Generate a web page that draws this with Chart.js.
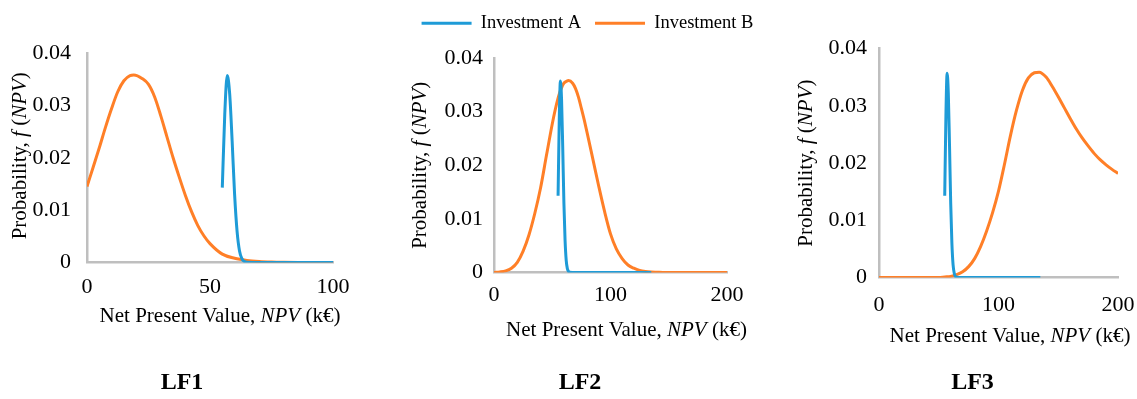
<!DOCTYPE html>
<html lang="en">
  <head>
    <meta charset="UTF-8" />
    <script src="https://cdn.jsdelivr.net/npm/chart.js@4.4.1/dist/chart.umd.min.js"></script>
    <title>NPV probability density, LF1 to LF3</title>
    <style>
      body {
        margin: 0;
        background: #fff;
        overflow: hidden;
      }

      .page {
        position: relative;
        width: 1137px;
        height: 399px;
        overflow: hidden;
      }

      .page canvas {
        position: absolute;
        top: 0;
      }
    </style>
  </head>
  <body>
    <div class="page">
      <canvas id="lf1" width="364" height="399" style="left: 0"></canvas>
      <canvas id="lf2" width="375" height="399" style="left: 400px"></canvas>
      <canvas id="lf3" width="375" height="399" style="left: 775px"></canvas>
    </div>
    <script>
      const seriesNames = ['Investment A', 'Investment B']
      const panelTitles = ['LF1', 'LF2', 'LF3']
      const yTickValues = [0, 0.01, 0.02, 0.03, 0.04]
      const yTickLabels = ['0', '0.01', '0.02', '0.03', '0.04']
      const xTicksLF1 = [0, 50, 100]
      const xTicksLF23 = [0, 100, 200]

      // Investment A is the same curve in all three panels
      const npvA = [55, 56, 57, 58, 59, 60, 61, 62, 63, 64, 65, 70, 80, 90, 100, 110, 120, 130, 135]
      const probA = [0.0143, 0.0283, 0.0357, 0.0322, 0.0232, 0.013, 0.006, 0.0022, 0.0007, 0.0002, 0.00005, 0, 0, 0, 0, 0, 0, 0, 0]

      const npvB1 = [0, 2.5, 5, 7.5, 10, 12.5, 15, 17.5, 19, 22.5, 25, 27.5, 30, 32.5, 35, 37.5, 40, 42.5, 45, 47.5, 50, 55, 60, 65, 70, 75, 80, 90, 100]
      const probB1 = [0.0145, 0.0182, 0.0219, 0.0258, 0.0294, 0.0326, 0.0347, 0.0357, 0.0358, 0.0351, 0.034, 0.0316, 0.028, 0.024, 0.02, 0.0163, 0.0128, 0.0097, 0.0071, 0.0051, 0.0036, 0.0016, 0.0008, 0.0004, 0.0002, 0.0001, 0.00005, 0, 0]

      const npvB2 = [0, 5, 10, 15, 20, 25, 30, 35, 40, 45, 50, 52.5, 55, 57.5, 60, 62.5, 64, 67.5, 70, 72.5, 75, 77.5, 80, 85, 90, 95, 100, 105, 110, 115, 120, 125, 130, 135, 140, 145, 150, 160, 170, 180, 190, 200]
      const probB2 = [0, 0.0001, 0.0003, 0.0008, 0.0019, 0.004, 0.007, 0.011, 0.0158, 0.0218, 0.0277, 0.0303, 0.0325, 0.0342, 0.0353, 0.0357, 0.0358, 0.0353, 0.0343, 0.0327, 0.0306, 0.0284, 0.026, 0.021, 0.016, 0.0113, 0.0072, 0.0044, 0.0026, 0.0014, 0.0008, 0.0004, 0.0002, 0.0001, 0.00005, 0, 0, 0, 0, 0, 0, 0]

      const npvB3 = [0, 10, 20, 30, 40, 50, 55, 60, 65, 70, 75, 80, 85, 90, 95, 100, 105, 110, 115, 120, 125, 130, 134, 140, 145, 150, 155, 160, 165, 170, 175, 180, 185, 190, 195, 200]
      const probB3 = [0, 0, 0, 0, 0, 0, 0.0001, 0.0002, 0.0005, 0.001, 0.0019, 0.0033, 0.0054, 0.0081, 0.0113, 0.0151, 0.0198, 0.0248, 0.0292, 0.0327, 0.0349, 0.0358, 0.0359, 0.035, 0.0334, 0.0316, 0.0297, 0.0278, 0.026, 0.0244, 0.023, 0.0217, 0.0206, 0.0197, 0.0189, 0.0182]

      const serif = "'Liberation Serif', 'Times New Roman', serif"
      const blue = '#1e9bd7'
      const orange = '#ff7f27'
      const axisGrey = '#bfbfbf'

      Chart.defaults.font.family = serif
      Chart.defaults.color = '#000'

      // axis titles mix upright and italic text, so they are drawn run by run
      const xTitle = [['Net Present Value, ', 'normal'], ['NPV', 'italic'], [' (k€)', 'normal']]
      const yTitle = [['Probability, ', 'normal'], ['f', 'italic'], [' (', 'normal'], ['NPV', 'italic'], [')', 'normal']]

      const drawRuns = (ctx, runs, cx, cy, angle, size) => {
        ctx.save()
        ctx.translate(cx, cy)
        ctx.rotate(angle)
        const fonts = runs.map(([, style]) => `${style} ${size}px ${serif}`)
        const widths = runs.map(([text], i) => {
          ctx.font = fonts[i]
          return ctx.measureText(text).width
        })
        let x = -widths.reduce((a, b) => a + b, 0) / 2
        runs.forEach(([text], i) => {
          ctx.font = fonts[i]
          ctx.fillText(text, x, 0)
          x += widths[i]
        })
        ctx.restore()
      }

      const axisTitles = {
        id: 'axisTitles',
        afterDraw(chart, args, opts) {
          const { ctx, chartArea: a } = chart
          ctx.save()
          ctx.fillStyle = '#000'
          ctx.textAlign = 'left'
          ctx.textBaseline = 'middle'
          drawRuns(ctx, xTitle, (a.left + a.right) / 2 + opts.x[0], a.bottom + opts.x[1], 0, 21)
          drawRuns(ctx, yTitle, a.left + opts.y[0], (a.top + a.bottom) / 2 + opts.y[1], -Math.PI / 2, 21)
          ctx.restore()
        },
      }

      // the shared legend keeps one row across the whole canvas and
      // leaves room above the plot
      const legendRoom = {
        id: 'legendRoom',
        beforeInit(chart) {
          const legend = chart.legend
          const fit = legend.fit
          legend.fit = function () {
            const maxWidth = this.maxWidth
            this.maxWidth = chart.width
            fit.call(this)
            this.maxWidth = maxWidth
            this.height = 58
          }
        },
        afterLayout(chart) {
          const legend = chart.legend
          legend.left = 0
          legend.right = chart.width
          legend.width = chart.width
        },
      }

      const toPoints = (xs, ys) => xs.map((x, i) => ({ x, y: ys[i] }))

      const makeChart = (id, p) =>
        new Chart(document.getElementById(id), {
          type: 'line',
          data: {
            datasets: [
              {
                label: seriesNames[0],
                data: toPoints(npvA, probA),
                borderColor: blue,
                backgroundColor: blue,
              },
              {
                label: seriesNames[1],
                data: toPoints(p.npvB, p.probB),
                borderColor: orange,
                backgroundColor: orange,
              },
            ],
          },
          options: {
            responsive: false,
            animation: false,
            layout: { padding: p.padding },
            elements: {
              point: { radius: 0 },
              line: { borderWidth: 3, cubicInterpolationMode: 'monotone' },
            },
            plugins: {
              legend: {
                display: p.legend,
                labels: {
                  font: { size: 18.5 },
                  boxWidth: 50,
                  boxHeight: 3,
                  padding: 14,
                  generateLabels: (chart) =>
                    Chart.defaults.plugins.legend.labels
                      .generateLabels(chart)
                      .map((item) => ({ ...item, lineWidth: 0 })),
                },
              },
              title: {
                display: true,
                position: 'bottom',
                text: p.title,
                font: { size: 24, weight: 'bold' },
                padding: 0,
              },
              tooltip: { enabled: false },
              axisTitles: { x: p.xTitleAt, y: p.yTitleAt },
            },
            scales: {
              x: {
                type: 'linear',
                min: p.xTicks[0],
                max: p.xTicks[p.xTicks.length - 1],
                afterBuildTicks: (s) => {
                  s.ticks = p.xTicks.map((value) => ({ value }))
                },
                afterFit: (s) => {
                  s.height = p.xHeight
                },
                ticks: { font: { size: 22 }, padding: p.xPad },
                grid: { display: false, drawTicks: false },
                border: { color: axisGrey, width: 2.5 },
              },
              y: {
                min: yTickValues[0],
                max: yTickValues[yTickValues.length - 1],
                afterBuildTicks: (s) => {
                  s.ticks = yTickValues.map((value) => ({ value }))
                },
                afterFit: (s) => {
                  s.width = p.yWidth
                },
                ticks: {
                  font: { size: 22 },
                  padding: p.yPad,
                  callback: (v, i) => yTickLabels[i],
                },
                grid: { display: false, drawTicks: false },
                border: { color: axisGrey, width: 2.5 },
              },
            },
          },
          plugins: p.legend ? [axisTitles, legendRoom] : [axisTitles],
        })

      makeChart('lf1', {
        title: panelTitles[0],
        npvB: npvB1,
        probB: probB1,
        xTicks: xTicksLF1,
        legend: false,
        padding: { top: 53, right: 31, bottom: 1.6, left: 31 },
        yWidth: 56,
        xHeight: 106.1,
        xPad: 12,
        yPad: 16,
        xTitleAt: [10, 54],
        yTitleAt: [-67, -2],
      })

      makeChart('lf2', {
        title: panelTitles[1],
        npvB: npvB2,
        probB: probB2,
        xTicks: xTicksLF23,
        legend: true,
        padding: { top: 0, right: 48, bottom: 1.6, left: 33 },
        yWidth: 61,
        xHeight: 96.1,
        xPad: 9.5,
        yPad: 11,
        xTitleAt: [16, 57.5],
        yTitleAt: [-74, 0],
      })

      makeChart('lf3', {
        title: panelTitles[2],
        npvB: npvB3,
        probB: probB3,
        xTicks: xTicksLF23,
        legend: false,
        padding: { top: 48.7, right: 32, bottom: 1.6, left: 52 },
        yWidth: 52,
        xHeight: 91.1,
        xPad: 15,
        yPad: 12,
        xTitleAt: [11.5, 58.5],
        yTitleAt: [-72.3, 0],
      })
    </script>
  </body>
</html>
